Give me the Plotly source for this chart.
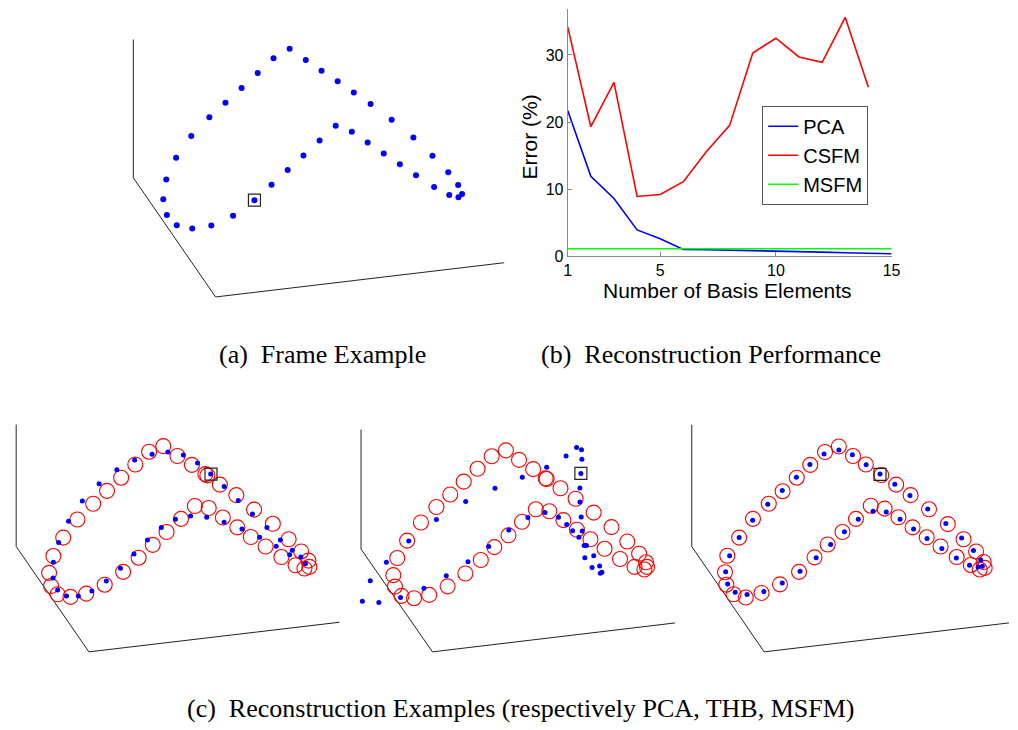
import plotly.graph_objects as go

W, H = 1018, 730

# ---------------- (b) Reconstruction performance data ----------------
basis = list(range(1, 16))
pca_err = [21.7, 11.9, 8.6, 3.9, 2.6, 1.0, 0.95, 0.9, 0.85, 0.75, 0.7, 0.6, 0.5, 0.4, 0.35]
csfm_basis = list(range(1, 15))
csfm_err = [34.2, 19.3, 25.9, 8.9, 9.2, 11.1, 15.6, 19.5, 30.3, 32.5, 29.7, 28.9, 35.6, 25.2]
msfm_err = [1.1] * 15
b_xticks = [1, 5, 10, 15]
b_yticks = [0, 10, 20, 30]

# ---------------- (a) Frame example: projected marker positions (panel units) ----------------
a_x = [508, 557, 605, 654, 703, 754, 818, 884, 942, 990, 1020, 1032, 1021, 993, 947, 892, 843, 794, 745, 697,
       648, 599, 550, 502, 453, 401, 336, 270, 212, 165, 135, 124, 133, 163, 209, 264, 313, 362, 411, 459]
a_y = [58, 92, 125, 157, 191, 226, 274, 328, 383, 433, 472, 499, 509, 502, 478, 442, 409, 376, 343, 310,
       292, 337, 382, 426, 471, 518, 565, 595, 604, 594, 563, 515, 455, 389, 323, 266, 222, 177, 132, 87]
a_sel = (401, 518)
a_frame_x = [33, 33, 283, 1160]
a_frame_y = [30, 450, 812, 708]

# ---------------- (c1) PCA reconstruction ----------------
c1_cx = [137, 143, 163, 202, 250, 306, 362, 409, 452, 494, 538, 580, 622, 665, 709, 750, 795, 843, 886, 913,
         928, 925, 903, 865, 817, 760, 706, 656, 612, 618, 571, 527, 484, 441, 399, 356, 313, 271, 223, 180, 150]
c1_cy = [480, 520, 545, 553, 543, 516, 477, 434, 395, 356, 316, 277, 283, 312, 342, 371, 400, 432, 457, 467,
         462, 443, 415, 378, 331, 288, 244, 212, 180, 184, 152, 125, 95, 112, 151, 191, 231, 270, 318, 373, 429]
c1_dx = [450, 498, 545, 588, 628, 669, 712, 755, 799, 840, 876, 868, 902, 916, 827, 777, 723, 669, 616, 567,
         521, 478, 436, 395, 354, 311, 267, 226, 190, 163, 149, 150, 166, 196, 238, 289, 343, 397]
c1_dy = [120, 113, 122, 146, 180, 218, 260, 301, 342, 380, 411, 425, 432, 452, 399, 372, 347, 326, 311, 307,
         317, 342, 380, 423, 466, 505, 535, 550, 550, 532, 496, 448, 388, 323, 262, 209, 167, 137]
c1_sel = (629, 180)
c1_frame_x = [37, 37, 258, 1020]
c1_frame_y = [30, 400, 720, 630]

# ---------------- (c2) THB reconstruction ----------------
c2_cx = [175, 163, 168, 188, 226, 272, 328, 382, 429, 470, 513, 554, 596, 637, 680, 721, 762, 805, 852, 896,
         926, 934, 931, 910, 874, 826, 772, 717, 671, 629, 626, 588, 545, 505, 462, 419, 377, 336, 294, 247, 205]
c2_cy = [435, 487, 522, 550, 557, 547, 521, 482, 441, 402, 366, 325, 287, 293, 320, 349, 378, 407, 438, 462,
         470, 462, 448, 422, 385, 341, 297, 255, 223, 195, 193, 165, 137, 108, 126, 164, 203, 242, 280, 327, 382]
c2_dx = [720, 735, 688, 736, 629, 555, 733, 472, 730, 383, 730, 294, 624, 572, 665, 734, 690, 514, 708, 737,
         210, 727, 743, 750, 453, 772, 745, 142, 390, 790, 767, 792, 797, 324, 93, 256, 185, 69, 119]
c2_dy = [99, 106, 125, 135, 159, 190, 178, 223, 222, 263, 265, 318, 297, 312, 311, 310, 333, 350, 352, 353,
         383, 372, 397, 397, 400, 428, 434, 448, 446, 459, 464, 481, 478, 489, 504, 527, 555, 566, 570]
c2_sel = (733, 178)
c2_frame_x = [65, 65, 282, 1020]
c2_frame_y = [45, 408, 720, 632]

# ---------------- (c3) MSFM reconstruction ----------------
c3_cx = [497, 455, 410, 369, 326, 284, 236, 194, 158, 151, 155, 177, 214, 262, 318, 376, 423, 463, 508, 549,
         594, 636, 678, 721, 764, 806, 855, 898, 925, 940, 937, 914, 876, 828, 771, 715, 671, 626, 579, 540]
c3_cy = [96, 113, 152, 191, 232, 270, 316, 373, 428, 478, 516, 545, 555, 541, 515, 477, 433, 394, 356, 316,
         276, 285, 311, 342, 372, 400, 432, 456, 470, 465, 447, 415, 378, 332, 287, 244, 212, 183, 151, 125]
c3_dx = [497, 452, 409, 368, 325, 281, 235, 194, 165, 153, 159, 182, 218, 269, 325, 379, 428, 472, 514, 556,
         601, 641, 683, 724, 765, 810, 854, 894, 920, 933, 928, 906, 870, 822, 767, 713, 667, 622, 580, 538]
c3_dy = [107, 119, 151, 190, 230, 272, 320, 373, 428, 477, 514, 539, 546, 537, 511, 475, 434, 394, 355, 317,
         293, 295, 317, 347, 376, 406, 435, 457, 462, 460, 441, 412, 374, 330, 286, 245, 211, 180, 152, 121]
c3_sel = (622, 181)
c3_frame_x = [50, 50, 270, 1014]
c3_frame_y = [30, 400, 720, 632]

BLUE, RED = "rgb(0,0,255)", "rgb(255,0,0)"
FRAME = "#222222"

fig = go.Figure()

# panel (b)
fig.add_trace(go.Scatter(x=basis, y=pca_err, mode="lines", name="PCA",
                         line=dict(color=BLUE, width=1.6), xaxis="x", yaxis="y"))
fig.add_trace(go.Scatter(x=csfm_basis, y=csfm_err, mode="lines", name="CSFM",
                         line=dict(color=RED, width=1.6), xaxis="x", yaxis="y"))
fig.add_trace(go.Scatter(x=basis, y=msfm_err, mode="lines", name="MSFM",
                         line=dict(color="rgb(0,255,0)", width=1.6), xaxis="x", yaxis="y"))


def panel(ax, frame_x, frame_y, dots_x, dots_y, sel, circ_x=None, circ_y=None, dot_size=5):
    xa, ya = "x%d" % ax, "y%d" % ax
    fig.add_trace(go.Scatter(x=frame_x, y=frame_y, mode="lines", showlegend=False, hoverinfo="skip",
                             line=dict(color=FRAME, width=1), xaxis=xa, yaxis=ya))
    if circ_x is not None:
        fig.add_trace(go.Scatter(x=circ_x, y=circ_y, mode="markers", showlegend=False, cliponaxis=False,
                                 marker=dict(symbol="circle-open", size=15, color=RED,
                                             line=dict(color=RED, width=1.1)),
                                 xaxis=xa, yaxis=ya))
    fig.add_trace(go.Scatter(x=dots_x, y=dots_y, mode="markers", showlegend=False, cliponaxis=False,
                             marker=dict(symbol="circle", size=dot_size, color=BLUE),
                             xaxis=xa, yaxis=ya))
    fig.add_trace(go.Scatter(x=[sel[0]], y=[sel[1]], mode="markers", showlegend=False, cliponaxis=False,
                             marker=dict(symbol="square-open", size=12, color="#222",
                                         line=dict(color="#222", width=1.2)),
                             xaxis=xa, yaxis=ya))


panel(2, a_frame_x, a_frame_y, a_x, a_y, a_sel, dot_size=6)
panel(3, c1_frame_x, c1_frame_y, c1_dx, c1_dy, c1_sel, c1_cx, c1_cy)
panel(4, c2_frame_x, c2_frame_y, c2_dx, c2_dy, c2_sel, c2_cx, c2_cy)
panel(5, c3_frame_x, c3_frame_y, c3_dx, c3_dy, c3_sel, c3_cx, c3_cy)


def hidden_axes(px0, py0, pw, ph):
    xdom = [px0 / W, (px0 + pw) / W]
    ydom = [1 - (py0 + ph) / H, 1 - py0 / H]
    xa = dict(domain=xdom, range=[0, pw * 3], visible=False, fixedrange=True)
    ya = dict(domain=ydom, range=[ph * 3, 0], visible=False, fixedrange=True)
    return xa, ya


axfont = dict(family="Liberation Sans, Arial, sans-serif", size=16, color="black")
layout = dict(
    width=W, height=H, margin=dict(l=0, r=0, t=0, b=0),
    paper_bgcolor="white", plot_bgcolor="rgba(0,0,0,0)",
    xaxis=dict(domain=[571 / W, 899 / W], range=[1, 15], tickvals=b_xticks, ticktext=[str(v) for v in b_xticks],
               showline=True, linecolor="#8a8a8a", linewidth=1, ticks="inside", ticklen=4, tickcolor="#8a8a8a",
               showgrid=False, zeroline=False, tickfont=axfont, anchor="y", fixedrange=True),
    yaxis=dict(domain=[1 - 259.3 / H, 1 - 9.5 / H], range=[0, 36.8], tickvals=b_yticks,
               ticktext=[str(v) for v in b_yticks],
               showline=True, linecolor="#8a8a8a", linewidth=1, ticks="inside", ticklen=4, tickcolor="#8a8a8a",
               showgrid=False, zeroline=False, tickfont=axfont, anchor="x", fixedrange=True),
    legend=dict(x=768 / W, y=1 - 107 / H, xanchor="left", yanchor="top",
                bordercolor="#555", borderwidth=1, bgcolor="white",
                font=dict(family="Liberation Sans, Arial, sans-serif", size=20, color="black"),
                tracegroupgap=0, itemwidth=30),
    showlegend=True,
)
for i, (px0, py0, pw, ph) in zip([2, 3, 4, 5], [(120, 30, 390, 280), (0, 420, 340, 250),
                                                (340, 420, 340, 250), (680, 420, 338, 250)]):
    xa, ya = hidden_axes(px0, py0, pw, ph)
    xa["anchor"] = "y%d" % i
    ya["anchor"] = "x%d" % i
    layout["xaxis%d" % i] = xa
    layout["yaxis%d" % i] = ya

serif = dict(family="Liberation Serif, Times New Roman, serif", size=26, color="black")
sans = dict(family="Liberation Sans, Arial, sans-serif", size=21, color="black")
layout["annotations"] = [
    dict(text="(a)  Frame Example", x=322.5 / W, y=1 - 359 / H, xref="paper", yref="paper",
         showarrow=False, font=serif, xanchor="center", yanchor="middle"),
    dict(text="(b)  Reconstruction Performance", x=716 / W, y=1 - 359 / H, xref="paper", yref="paper",
         showarrow=False, font=serif, xanchor="center", yanchor="middle"),
    dict(text="(c)  Reconstruction Examples (respectively PCA, THB, MSFM)", x=523 / W, y=1 - 717 / H,
         xref="paper", yref="paper", showarrow=False, font=serif, xanchor="center", yanchor="middle"),
    dict(text="Number of Basis Elements", x=733 / W, y=1 - 294 / H, xref="paper", yref="paper",
         showarrow=False, font=sans, xanchor="center", yanchor="middle"),
    dict(text="Error (%)", x=532.5 / W, y=1 - 138.5 / H, xref="paper", yref="paper",
         showarrow=False, font=sans, xanchor="center", yanchor="middle", textangle=-90),
]
fig.update_layout(**layout)
fig.write_html("out.html")
